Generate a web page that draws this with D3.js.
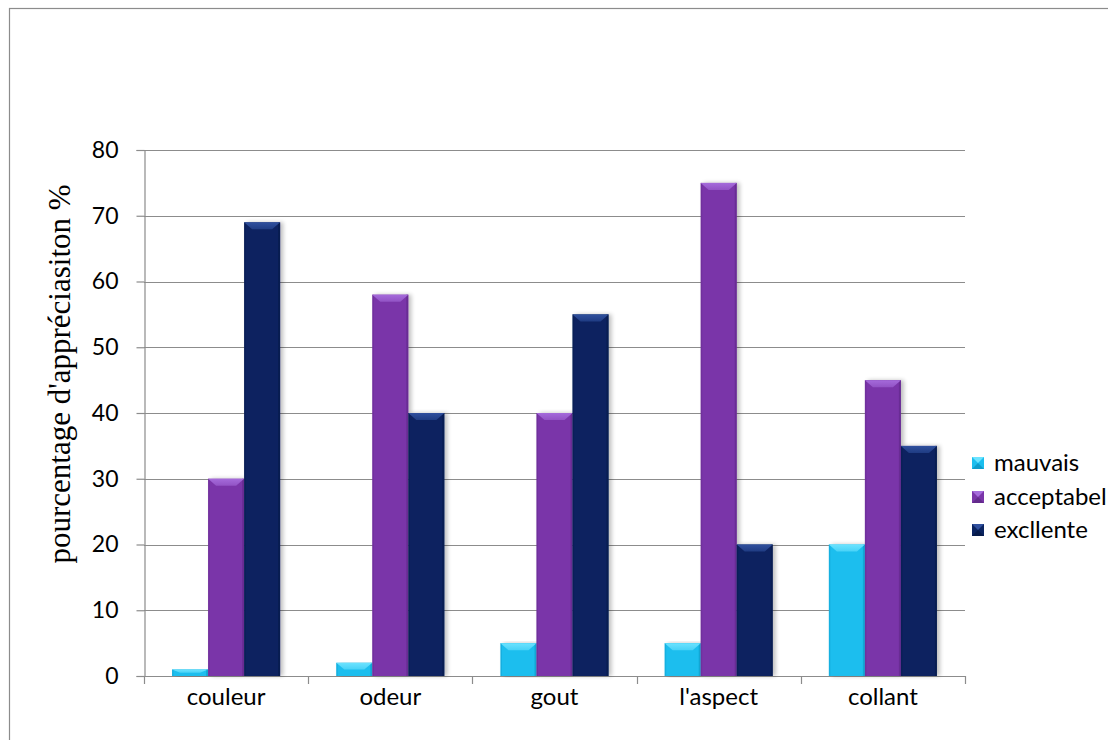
<!DOCTYPE html>
<html>
<head>
<meta charset="utf-8">
<script src="https://cdn.jsdelivr.net/npm/d3@7"></script>
<style>
  html, body { margin: 0; padding: 0; background: #fff; }
  svg { display: block; }
</style>
</head>
<body>
<script>
// Appreciation scores per criterion
const categories = ["couleur", "odeur", "gout", "l'aspect", "collant"];
const seriesNames = ["mauvais", "acceptabel", "excllente"];
const mauvais    = [1, 2, 5, 5, 20];
const acceptabel = [30, 58, 40, 75, 45];
const excllente  = [69, 40, 55, 20, 35];
const yTicks = [0, 10, 20, 30, 40, 50, 60, 70, 80];

const seriesValues = [mauvais, acceptabel, excllente];
const fills  = ["#1BBEEE", "#7A35A9", "#0B2461"];
const lights = ["#6CE3FF", "#A56BDB", "#30509E"];
const darks  = ["#0E9CCB", "#632A8C", "#071B4B"];

const W = 1108, H = 740;
const sans = "Lato, 'Open Sans', 'Liberation Sans', sans-serif";
const svg = d3.select("body").append("svg").attr("width", W).attr("height", H);

const defs = svg.append("defs");
const shadow = defs.append("filter").attr("id", "shadow")
  .attr("x", "-20%").attr("y", "-5%").attr("width", "150%").attr("height", "110%");
shadow.append("feGaussianBlur").attr("in", "SourceAlpha").attr("stdDeviation", 2);
shadow.append("feOffset").attr("dx", 3).attr("dy", 0).attr("result", "b");
shadow.append("feComponentTransfer").append("feFuncA").attr("type", "linear").attr("slope", 0.25);
const merge = shadow.append("feMerge");
merge.append("feMergeNode");
merge.append("feMergeNode").attr("in", "SourceGraphic");

// bevel gradients for the bar caps
fills.forEach((f, i) => {
  const g = defs.append("linearGradient").attr("id", "cap" + i)
    .attr("x1", 0).attr("y1", 0).attr("x2", 0).attr("y2", 1);
  g.append("stop").attr("offset", 0).attr("stop-color", lights[i]);
  g.append("stop").attr("offset", 1).attr("stop-color", d3.interpolateRgb(lights[i], f)(0.45));
});

// outer frame (extends past the right and bottom edges)
svg.append("rect").attr("x", 9.5).attr("y", 8.5).attr("width", 1120).attr("height", 760)
  .attr("fill", "none").attr("stroke", "#8c8c8c").attr("stroke-width", 1.2);

const plotLeft = 144, plotRight = 965, plotTop = 150, plotBottom = 676;

const y = d3.scaleLinear().domain([0, 80]).range([plotBottom, plotTop]);
const x0 = d3.scaleBand().domain(categories).range([plotLeft, plotRight])
  .paddingInner(0.342).paddingOuter(0.171);
const x1 = d3.scaleBand().domain(seriesNames).range([0, x0.bandwidth()]).padding(0);

// gridlines
svg.append("g").selectAll("line").data(yTicks.filter(d => d > 0)).join("line")
  .attr("x1", plotLeft).attr("x2", plotRight)
  .attr("y1", d => Math.round(y(d)) + 0.5).attr("y2", d => Math.round(y(d)) + 0.5)
  .attr("stroke", "#8c8c8c").attr("stroke-width", 1.2);

// y axis
const yAxis = svg.append("g").attr("transform", `translate(${plotLeft + 0.5},0)`)
  .call(d3.axisLeft(y).tickValues(yTicks).tickSize(8).tickPadding(18));
yAxis.select(".domain").attr("stroke", "#8c8c8c").attr("stroke-width", 1.2);
yAxis.selectAll(".tick line").attr("stroke", "#8c8c8c").attr("stroke-width", 1.2);
yAxis.selectAll(".tick text").attr("font-family", sans)
  .attr("font-size", 23).attr("fill", "#000");

// x axis
const catEdges = d3.range(categories.length + 1).map(i => plotLeft + i * x0.step());
const xg = svg.append("g");
xg.append("line").attr("x1", plotLeft).attr("x2", plotRight)
  .attr("y1", plotBottom + 0.5).attr("y2", plotBottom + 0.5)
  .attr("stroke", "#8c8c8c").attr("stroke-width", 1.2);
xg.selectAll("line.tk").data(catEdges).join("line").attr("class", "tk")
  .attr("x1", d => Math.round(d) + 0.5).attr("x2", d => Math.round(d) + 0.5)
  .attr("y1", plotBottom).attr("y2", plotBottom + 8)
  .attr("stroke", "#8c8c8c").attr("stroke-width", 1.2);
xg.selectAll("text").data(categories).join("text")
  .attr("x", d => x0(d) + x0.bandwidth() / 2).attr("y", 705)
  .attr("text-anchor", "middle")
  .attr("font-family", sans)
  .attr("font-size", 24).attr("fill", "#000").text(d => d);

// bars with bevelled caps
const bars = [];
seriesValues.forEach((vals, si) => {
  vals.forEach((v, ci) => {
    bars.push({ si, ci, v, cat: categories[ci], name: seriesNames[si] });
  });
});

const bg = svg.append("g");
const bar = bg.selectAll("g.bar").data(bars).join("g").attr("class", "bar");
bar.append("rect")
  .attr("x", d => x0(d.cat) + x1(d.name))
  .attr("y", d => y(d.v))
  .attr("width", x1.bandwidth())
  .attr("height", d => y(0) - y(d.v))
  .attr("fill", d => fills[d.si])
  .attr("filter", "url(#shadow)");
// side edges
bar.append("rect")
  .attr("x", d => x0(d.cat) + x1(d.name) + x1.bandwidth() - 2)
  .attr("y", d => y(d.v))
  .attr("width", 2)
  .attr("height", d => y(0) - y(d.v))
  .attr("fill", d => darks[d.si]).attr("opacity", 0.7);
bar.append("rect")
  .attr("x", d => x0(d.cat) + x1(d.name))
  .attr("y", d => y(d.v))
  .attr("width", 1.5)
  .attr("height", d => y(0) - y(d.v))
  .attr("fill", d => darks[d.si]).attr("opacity", 0.4);
// top bevel
bar.append("path")
  .attr("d", d => {
    const bx = x0(d.cat) + x1(d.name), bw = x1.bandwidth(), by = y(d.v);
    const h = Math.min(7, (y(0) - by) / 2), inset = Math.min(8, bw / 4);
    return `M${bx},${by}L${bx + bw},${by}L${bx + bw - inset},${by + h}L${bx + inset},${by + h}Z`;
  })
  .attr("fill", d => `url(#cap${d.si})`);

// axis title
svg.append("text")
  .attr("transform", "translate(70,374) rotate(-90)")
  .attr("text-anchor", "middle")
  .attr("font-family", "'Liberation Serif', 'DejaVu Serif', serif")
  .attr("font-size", 31).attr("fill", "#000")
  .text("pourcentage d'appréciasiton %");

// legend
const lg = svg.append("g");
const legendY = [463, 497, 530];
const item = lg.selectAll("g").data(seriesNames).join("g")
  .attr("transform", (d, i) => `translate(972,${legendY[i]})`);
item.append("rect").attr("x", 0).attr("y", -6).attr("width", 12).attr("height", 12)
  .attr("fill", (d, i) => fills[i]);
item.append("path").attr("d", "M0,-6L12,-6L6,0Z").attr("fill", (d, i) => lights[i]);
item.append("path").attr("d", "M0,6L12,6L6,0Z").attr("fill", (d, i) => darks[i]);
item.append("text").attr("x", 22).attr("y", 8)
  .attr("font-family", sans)
  .attr("font-size", 24).attr("fill", "#000").text(d => d);
</script>
</body>
</html>
